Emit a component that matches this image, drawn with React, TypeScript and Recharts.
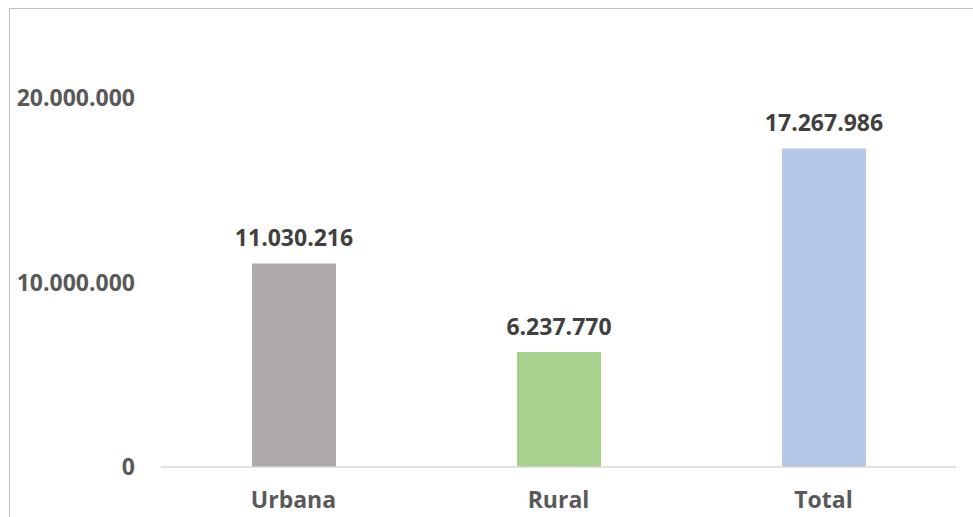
import { Bar, BarChart, Cell, LabelList, XAxis, YAxis } from "recharts";

const categories = ['Urbana', 'Rural', 'Total'];
const values = [11030216, 6237770, 17267986];
const yTicks = [0, 10000000, 20000000];

const COLORS = ['#aeaaaa', '#a9d18e', '#b4c7e7'];

const data = categories.map((name, i) => ({ name, value: values[i] }));

const fmt = (v: number) => v.toLocaleString('de-DE');

const FONT = "'Open Sans', sans-serif";

const App = () => {
  return (
    <div style={{ position: 'absolute', left: 0, top: 0, width: 973, height: 517, overflow: 'hidden', background: '#fff' }}>
      <div
        style={{
          position: 'absolute',
          left: 9,
          top: 8,
          width: 1000,
          height: 600,
          borderTop: '1px solid #bfbfbf',
          borderLeft: '1px solid #bfbfbf',
        }}
      />
      <div style={{ position: 'absolute', left: 0, top: 0 }}>
        <BarChart
          width={973}
          height={517}
          data={data}
          margin={{ top: 98, right: 17, bottom: 20, left: 0 }}
        >
          <XAxis
            dataKey="name"
            axisLine={{ stroke: '#d9d9d9', strokeWidth: 1.5 }}
            tickLine={false}
            tickMargin={19}
            height={30}
            tick={{ fill: '#595959', fontSize: 23, fontWeight: 700, fontFamily: FONT }}
          />
          <YAxis
            width={161}
            domain={[0, 20000000]}
            ticks={yTicks}
            axisLine={false}
            tickLine={false}
            tickMargin={20}
            tickFormatter={fmt}
            tick={{ fill: '#595959', fontSize: 23, fontWeight: 700, fontFamily: FONT }}
          />
          <Bar dataKey="value" barSize={84} isAnimationActive={false}>
            {data.map((entry, index) => (
              <Cell key={`cell-${index}`} fill={COLORS[index % COLORS.length]} />
            ))}
            <LabelList
              dataKey="value"
              position="top"
              offset={17}
              formatter={(v: any) => fmt(Number(v))}
              style={{ fill: '#404040', fontSize: 23, fontWeight: 700, fontFamily: FONT }}
            />
          </Bar>
        </BarChart>
      </div>
    </div>
  );
};

export default App;
